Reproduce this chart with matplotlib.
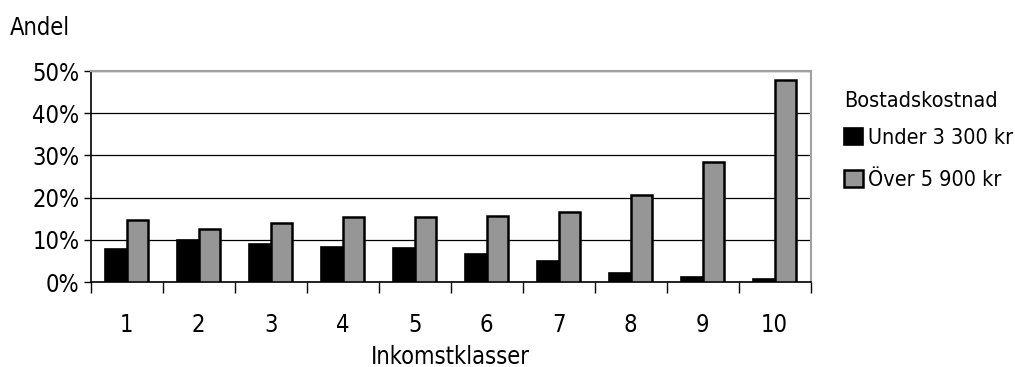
import numpy as np
import matplotlib.pyplot as plt
from matplotlib.ticker import PercentFormatter, FixedLocator, NullFormatter

klasser = ['1', '2', '3', '4', '5', '6', '7', '8', '9', '10']
under_3300 = [7.9, 9.9, 9.0, 8.4, 8.1, 6.7, 4.9, 2.1, 1.2, 0.7]
over_5900 = [14.6, 12.5, 14.0, 15.5, 15.5, 15.7, 16.7, 20.6, 28.4, 47.9]

plt.rcParams['font.family'] = ['DejaVu Sans']
plt.rcParams['font.stretch'] = 'condensed'
plt.rcParams['font.size'] = 17

fig = plt.figure(figsize=(10.15, 3.67), dpi=100)
ax = fig.add_axes([0.0893, 0.2316, 0.7094, 0.5749])

x = np.arange(len(klasser))
w = 0.3
ax.bar(x - w/2, under_3300, w, color='black', edgecolor='black', linewidth=1.2,
       label='Under 3 300 kr', zorder=3)
ax.bar(x + w/2, over_5900, w, color='#969696', edgecolor='black', linewidth=1.8,
       label='Över 5 900 kr', zorder=3)

ax.set_xlim(-0.5, len(klasser) - 0.5)
ax.set_ylim(0, 50)
ax.yaxis.set_major_formatter(PercentFormatter(decimals=0))
ax.set_yticks(range(0, 51, 10))
ax.yaxis.grid(True, color='black', linewidth=0.9, zorder=0)

# category labels in the middle, tick marks between categories
ax.set_xticks(x)
ax.set_xticklabels(klasser)
ax.tick_params(axis='x', which='major', length=0, pad=22)
ax.xaxis.set_minor_locator(FixedLocator(np.arange(-0.5, len(klasser), 1)))
ax.xaxis.set_minor_formatter(NullFormatter())
ax.tick_params(axis='x', which='minor', length=8, width=1, direction='out')
ax.tick_params(axis='y', length=5, width=1, direction='out', pad=3)

for side in ['top', 'right']:
    ax.spines[side].set_color('#a0a0a0')
    ax.spines[side].set_linewidth(1.5)
for side in ['left', 'bottom']:
    ax.spines[side].set_color('black')
    ax.spines[side].set_linewidth(1.2)

ax.set_xlabel('Inkomstklasser', labelpad=6)
fig.text(0.01, 0.925, 'Andel', va='center')

leg = ax.legend(title='Bostadskostnad', loc='upper left', bbox_to_anchor=(1.02, 0.995),
                frameon=False, handlelength=0.85, handleheight=0.85, handletextpad=0.25,
                labelspacing=1.0, alignment='left', fontsize=15.5, title_fontsize=15.5)
leg._legend_box.sep = 12

fig.savefig('out.png', dpi=100)
